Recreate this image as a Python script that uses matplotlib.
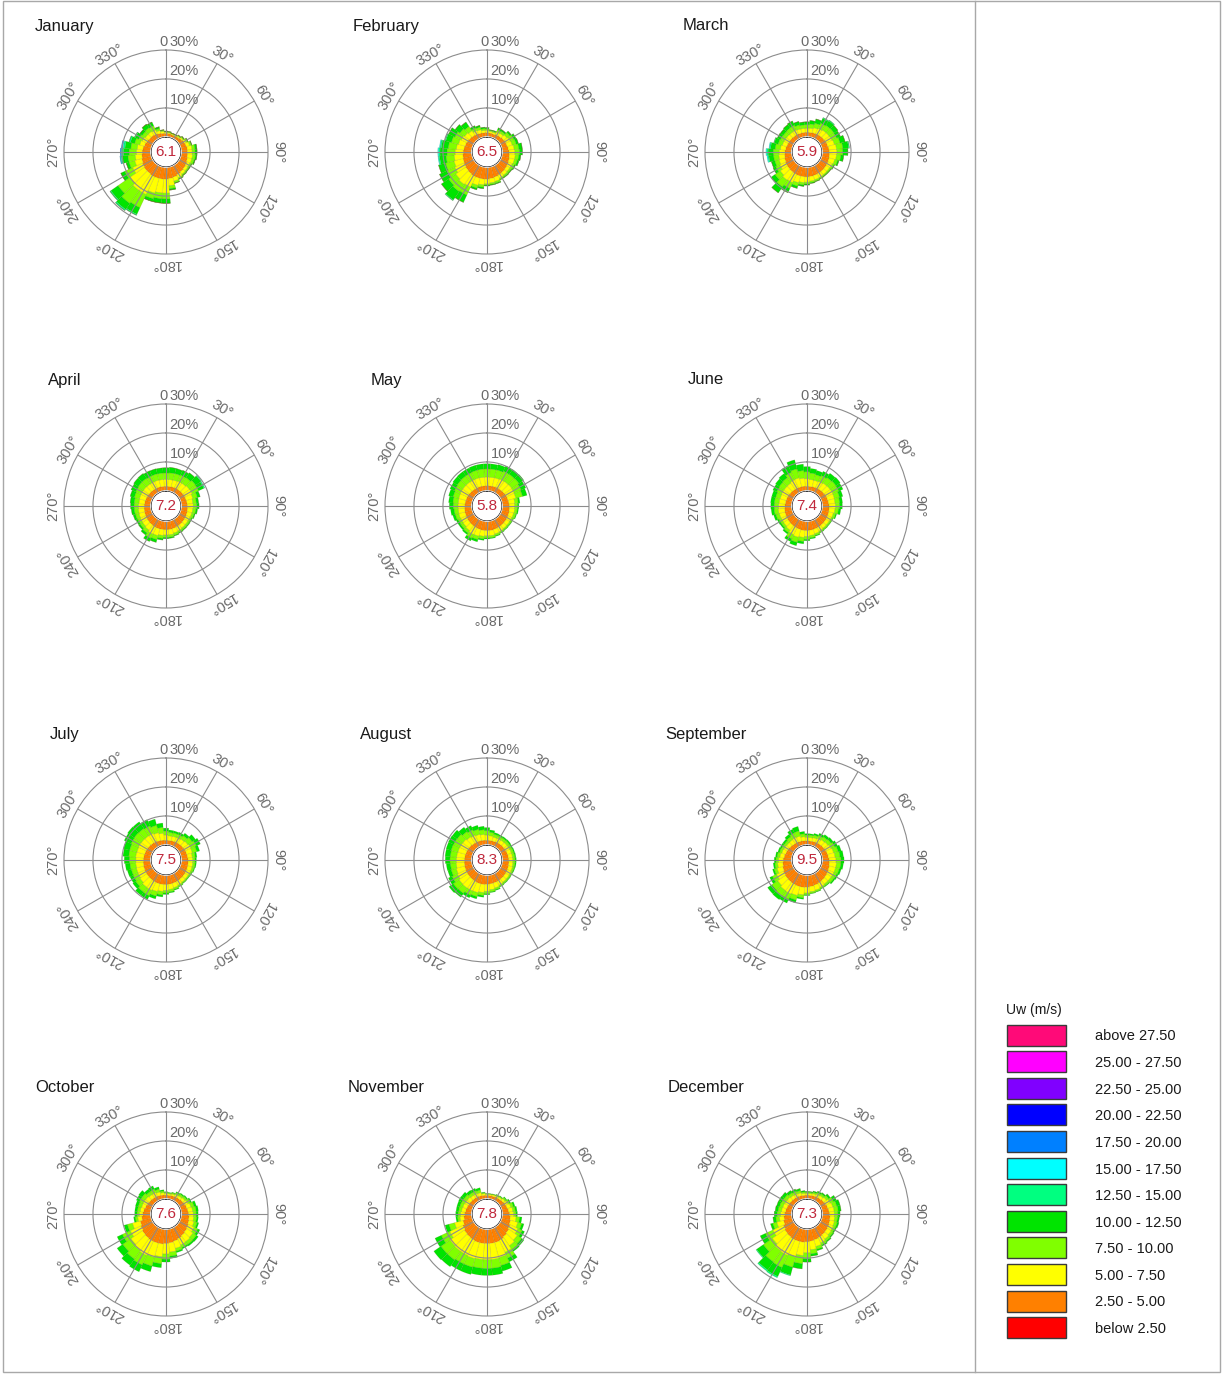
import numpy as np
import matplotlib.pyplot as plt
from matplotlib.patches import Rectangle, Circle

plt.rcParams['font.family'] = ['Liberation Sans', 'DejaVu Sans']

# figure size in pixels
W, H = 1222, 1375

# wind directions (sector centres, degrees from north, clockwise)
directions = np.arange(0, 360, 10)

months = ['January', 'February', 'March', 'April', 'May', 'June',
          'July', 'August', 'September', 'October', 'November', 'December']
mean_speed = ['6.1', '6.5', '5.9', '7.2', '5.8', '7.4',
              '7.5', '8.3', '9.5', '7.6', '7.8', '7.3']

# speed classes, lowest first
class_labels = ['below 2.50', '2.50 - 5.00', '5.00 - 7.50', '7.50 - 10.00',
                '10.00 - 12.50', '12.50 - 15.00', '15.00 - 17.50', '17.50 - 20.00',
                '20.00 - 22.50', '22.50 - 25.00', '25.00 - 27.50', 'above 27.50']
class_colors = ['#ff0000', '#ff8000', '#ffff00', '#80ff00', '#00e400', '#00ff80',
                '#00ffff', '#0080ff', '#0000ff', '#8000ff', '#ff00ff', '#ff0a78']

# frequency (%) per direction, one row per speed class starting at 2.50 - 5.00
jan = [
    [1.2,1.2,1.0,1.0,1.2,1.5,1.8,2.0,2.2,2.2,2.3,2.5,2.8,3.0,3.2,3.5,3.8,4.0,4.2,4.2,4.2,4.2,4.0,4.0,3.8,3.5,3.2,3.0,2.8,2.5,2.2,2.0,2.0,1.8,1.5,1.3],
    [0.4,0.3,0.3,0.3,0.4,0.5,0.7,1.2,1.6,1.6,1.7,1.5,1.0,1.0,1.0,1.1,1.4,2.5,4.8,4.8,5.3,6.8,7.0,6.0,3.7,2.5,2.3,2.0,2.0,1.7,1.6,1.5,1.5,1.4,1.0,0.7],
    [0.2,0.2,0.2,0.2,0.3,0.3,0.5,0.6,1.0,1.0,1.0,0.8,0.5,0.4,0.4,0.4,0.6,1.0,2.0,2.0,2.0,5.0,5.5,5.0,3.0,2.0,2.5,2.5,2.2,1.8,1.4,1.3,1.5,1.6,0.7,0.3],
    [0.2,0.2,0.1,0.1,0.1,0.2,0.2,0.2,0.7,0.7,0.5,0.4,0.3,0.2,0.2,0.2,0.2,0.5,1.5,1.5,1.0,2.5,2.5,3.0,1.5,1.0,2.0,2.0,2.0,1.5,1.3,1.0,1.5,1.4,0.6,0.2],
    [0,0,0,0,0,0,0,0,0,0,0,0,0,0,0,0,0,0,0,0,0,0.4,0.5,0.4,0,0,0.4,0.5,0.6,0.5,0.3,0,0,0,0,0],
    [0,0,0,0,0,0,0,0,0,0,0,0,0,0,0,0,0,0,0,0,0,0,0,0,0,0,0.2,0.3,0.4,0,0,0,0,0,0,0],
    [0,0,0,0,0,0,0,0,0,0,0,0,0,0,0,0,0,0,0,0,0,0,0,0,0,0,0.2,0.3,0.3,0,0,0,0,0,0,0],
]
feb = [
    [1.5,1.4,1.3,1.5,1.6,1.8,2.0,2.0,2.2,2.4,2.6,2.8,3.0,3.2,3.4,3.6,3.8,4.0,4.2,4.2,4.2,4.2,4.0,3.8,3.6,3.4,3.2,3.0,2.8,2.6,2.4,2.2,2.0,1.8,1.6,1.5],
    [0.8,0.6,0.6,1.0,1.1,1.4,1.6,1.8,2.0,2.0,2.0,1.8,1.4,1.2,1.2,1.2,1.5,1.5,1.6,2.0,2.5,4.0,4.5,4.2,3.5,3.2,3.0,2.8,2.6,2.4,2.2,2.0,1.8,1.2,1.2,0.8],
    [0.5,0.3,0.3,0.8,0.8,1.2,1.4,1.4,1.6,1.6,1.2,1.0,0.8,0.6,0.5,0.4,0.6,0.5,0.4,0.8,1.0,3.0,3.0,3.0,3.0,3.0,2.8,2.8,2.8,2.5,2.4,2.0,1.8,1.0,0.9,0.6],
    [0.4,0.2,0.3,0.7,0.5,0.6,0.8,0.8,1.2,1.0,0.7,0.6,0.4,0.3,0.3,0.2,0.3,0.3,0.3,0.5,0.6,2.8,3.5,3.0,2.8,2.5,2.2,2.4,2.4,2.0,2.4,2.0,1.8,0.8,0.6,0.5],
    [0,0,0,0,0,0,0,0,0,0,0,0,0,0,0,0,0,0,0,0,0,0,0.3,0,0,0,0.4,0.5,0.5,0.3,0,0,0,0,0,0],
    [0,0,0,0,0,0,0,0,0,0,0,0,0,0,0,0,0,0,0,0,0,0,0,0,0,0,0.2,0.3,0.2,0,0,0,0,0,0,0],
]
mar = [
    [1.6,1.6,1.7,1.8,1.9,2.0,2.1,2.2,2.4,2.5,2.6,2.7,2.8,2.9,3.0,3.1,3.2,3.3,3.4,3.4,3.4,3.3,3.2,3.1,3.0,2.8,2.6,2.4,2.2,2.0,1.9,1.8,1.7,1.7,1.6,1.6],
    [1.4,1.5,1.8,2.0,2.2,2.2,2.2,2.4,2.6,2.6,2.4,2.0,1.6,1.4,1.4,1.4,1.5,1.6,1.8,2.0,2.4,3.2,3.5,3.0,2.2,2.0,2.0,2.0,1.8,1.6,1.6,1.6,1.6,1.6,1.5,1.4],
    [1.2,1.4,1.6,2.0,2.0,2.0,1.8,2.0,2.2,2.0,1.5,1.0,0.6,0.5,0.4,0.4,0.5,0.5,0.6,0.8,1.2,2.2,2.8,2.2,1.5,1.5,1.8,2.0,1.8,1.5,1.4,1.4,1.6,1.7,1.4,1.2],
    [1.0,1.2,1.5,1.8,1.8,1.6,1.4,1.8,2.0,1.8,1.0,0.5,0.3,0.2,0.2,0.2,0.2,0.3,0.4,0.5,0.8,1.6,2.5,1.6,1.0,1.2,1.6,1.8,1.6,1.4,1.2,1.2,1.4,1.6,1.2,1.0],
    [0,0,0,0.3,0.3,0,0,0,0.3,0,0,0,0,0,0,0,0,0,0,0,0,0,0,0,0,0,0.4,0.5,0.4,0.2,0,0,0,0,0,0],
    [0,0,0,0,0,0,0,0,0,0,0,0,0,0,0,0,0,0,0,0,0,0,0,0,0,0,0.3,0.3,0.2,0,0,0,0,0,0,0],
]
apr = [
    [1.6,1.6,1.7,1.8,1.8,1.9,2.0,2.0,2.1,2.2,2.3,2.4,2.5,2.6,2.7,2.8,2.9,3.0,3.0,3.0,3.0,2.9,2.8,2.7,2.6,2.5,2.4,2.3,2.2,2.1,2.0,1.9,1.8,1.7,1.7,1.6],
    [2.4,2.4,2.4,2.5,2.6,2.8,2.8,2.4,2.0,2.0,1.8,1.6,1.4,1.4,1.4,1.5,1.6,1.8,1.8,2.0,2.4,2.6,2.2,2.0,2.0,2.0,2.0,2.0,2.0,2.2,2.3,2.4,2.4,2.4,2.4,2.4],
    [2.2,2.3,2.3,2.3,2.4,2.6,2.4,1.6,1.2,1.2,1.0,0.8,0.6,0.6,0.6,0.6,0.7,0.8,0.8,1.0,1.4,1.6,1.2,1.0,1.0,1.2,1.4,1.5,1.6,1.8,2.0,2.2,2.3,2.2,2.2,2.2],
    [1.8,1.9,1.8,1.8,2.0,2.2,2.0,1.0,0.8,0.8,0.6,0.4,0.3,0.3,0.3,0.3,0.3,0.4,0.5,0.6,1.0,1.2,0.8,0.6,0.6,0.8,1.0,1.2,1.4,1.5,1.8,1.9,2.0,1.9,1.8,1.8],
    [0,0,0,0,0,0.3,0.4,0,0,0,0,0,0,0,0,0,0,0,0,0,0,0,0,0,0,0,0,0,0,0,0,0,0,0,0,0],
]
may = [
    [1.8,1.8,1.9,2.0,2.0,2.1,2.2,2.3,2.4,2.5,2.6,2.7,2.8,2.9,3.0,3.1,3.2,3.3,3.3,3.3,3.2,3.1,3.0,2.9,2.8,2.7,2.6,2.5,2.4,2.3,2.2,2.1,2.0,1.9,1.9,1.8],
    [3.0,3.0,3.0,3.1,3.2,3.2,3.0,2.8,2.0,1.8,1.8,1.6,1.4,1.4,1.4,1.5,1.6,1.8,1.8,2.0,2.4,2.6,2.2,2.0,2.0,2.2,2.2,2.3,2.4,2.6,2.8,2.9,3.0,3.0,3.0,3.0],
    [2.8,2.8,2.8,3.0,3.0,3.0,2.6,2.4,1.2,1.0,0.9,0.8,0.6,0.5,0.5,0.5,0.6,0.7,0.7,0.9,1.2,1.4,1.0,1.0,1.0,1.2,1.4,1.6,1.8,2.0,2.2,2.4,2.5,2.6,2.7,2.8],
    [1.8,1.8,1.9,2.0,2.0,2.0,1.8,1.6,0.6,0.5,0.4,0.3,0.2,0.2,0.2,0.2,0.3,0.3,0.4,0.5,0.8,1.0,0.6,0.6,0.7,0.9,1.2,1.4,1.5,1.6,1.7,1.8,1.8,1.8,1.8,1.8],
]
jun = [
    [1.6,1.6,1.7,1.8,1.9,2.0,2.1,2.2,2.3,2.4,2.5,2.6,2.7,2.8,2.9,3.0,3.1,3.2,3.3,3.3,3.2,3.1,3.0,2.9,2.8,2.7,2.6,2.4,2.3,2.2,2.1,2.0,1.9,1.8,1.7,1.7],
    [2.6,2.4,2.3,2.4,2.6,2.6,2.6,2.4,2.2,2.2,2.0,1.6,1.4,1.3,1.3,1.4,1.6,1.8,2.0,2.4,2.8,2.6,2.0,1.8,1.8,2.0,2.2,2.2,2.2,2.2,2.4,2.5,2.6,3.0,3.2,2.8],
    [2.4,2.2,2.0,2.2,2.3,2.4,2.2,1.8,1.6,1.4,1.2,0.8,0.5,0.5,0.5,0.5,0.6,0.8,1.0,1.4,1.8,1.6,1.0,0.8,0.9,1.2,1.4,1.5,1.6,1.6,1.8,2.0,2.2,2.8,3.2,2.6],
    [1.8,1.6,1.5,1.6,1.8,1.8,1.6,1.2,1.0,1.0,0.8,0.4,0.2,0.2,0.2,0.2,0.3,0.4,0.5,0.8,1.2,1.0,0.6,0.5,0.6,0.8,1.0,1.2,1.3,1.4,1.5,1.6,1.8,2.6,3.2,2.2],
]
jul = [
    [1.6,1.6,1.7,1.8,1.9,2.0,2.1,2.2,2.3,2.4,2.5,2.6,2.7,2.8,2.9,3.0,3.1,3.2,3.3,3.3,3.3,3.2,3.1,3.0,2.9,2.8,2.7,2.6,2.5,2.4,2.3,2.2,2.1,2.0,1.8,1.7],
    [1.8,1.6,1.6,1.6,1.8,2.0,2.2,2.0,1.6,1.6,1.6,1.5,1.4,1.3,1.3,1.4,1.6,1.8,2.0,2.4,2.8,3.2,3.2,2.8,2.6,2.6,2.6,2.6,2.8,2.8,3.0,3.0,3.0,3.0,2.8,2.4],
    [1.4,1.2,1.2,1.2,1.4,1.8,2.0,1.6,1.0,0.8,0.8,0.7,0.5,0.4,0.4,0.5,0.6,0.8,0.9,1.2,1.6,2.0,2.0,1.8,1.8,1.8,2.0,2.2,2.4,2.6,2.8,3.0,3.0,2.8,2.6,2.0],
    [1.0,0.8,0.7,0.8,1.0,1.4,1.6,1.0,0.6,0.5,0.4,0.3,0.2,0.2,0.2,0.2,0.3,0.4,0.5,0.7,1.0,1.4,1.4,1.2,1.2,1.4,1.6,1.8,2.0,2.2,2.6,2.8,2.8,2.4,2.2,1.5],
]
aug = [
    [1.6,1.6,1.6,1.7,1.8,1.9,2.0,2.1,2.2,2.3,2.4,2.5,2.6,2.7,2.8,2.9,3.0,3.1,3.2,3.3,3.3,3.2,3.1,3.0,2.9,2.8,2.7,2.6,2.5,2.4,2.3,2.2,2.0,1.9,1.8,1.7],
    [1.8,1.6,1.4,1.4,1.4,1.4,1.4,1.4,1.4,1.4,1.4,1.4,1.4,1.4,1.4,1.5,1.8,2.0,2.4,2.8,3.2,3.4,3.6,3.6,3.2,3.0,2.8,2.8,2.8,2.8,2.8,2.8,2.6,2.4,2.2,2.0],
    [1.5,1.2,1.0,0.9,0.9,0.9,0.8,0.8,0.8,0.8,0.7,0.6,0.5,0.5,0.5,0.5,0.6,0.7,0.8,1.0,1.4,1.6,2.2,2.4,2.0,1.8,2.0,2.2,2.2,2.4,2.4,2.4,2.2,2.0,1.8,1.6],
    [1.1,0.8,0.6,0.5,0.5,0.5,0.4,0.4,0.4,0.4,0.4,0.3,0.2,0.2,0.2,0.2,0.3,0.3,0.4,0.6,0.8,1.0,1.6,1.8,1.4,1.2,1.4,1.6,1.8,1.8,2.0,2.0,1.8,1.6,1.4,1.2],
]
sep = [
    [1.4,1.4,1.5,1.6,1.7,1.8,2.0,2.1,2.2,2.4,2.6,2.8,3.0,3.2,3.4,3.6,3.8,4.0,4.2,4.3,4.3,4.2,4.1,4.0,3.8,3.5,3.2,3.0,2.7,2.4,2.2,2.0,1.8,1.7,1.6,1.5],
    [1.2,1.2,1.3,1.5,1.7,1.8,2.0,2.2,2.3,2.4,2.4,2.2,2.0,1.8,1.6,1.6,1.8,1.8,2.0,2.6,3.2,3.6,3.6,3.2,2.6,2.0,1.8,1.6,1.5,1.4,1.4,1.4,1.6,1.8,1.8,1.4],
    [0.8,0.8,0.9,1.1,1.2,1.3,1.4,1.6,1.7,1.7,1.5,1.3,1.1,1.0,0.6,0.5,0.5,0.5,0.6,1.0,1.6,2.0,2.2,2.4,1.6,1.0,0.9,0.9,0.9,0.8,0.8,0.9,1.2,1.6,1.8,1.0],
    [0.5,0.5,0.6,0.8,0.9,0.9,1.0,1.1,1.2,1.1,0.9,0.7,0.6,0.5,0.3,0.2,0.2,0.2,0.3,0.5,1.0,1.4,1.6,1.8,1.0,0.6,0.6,0.6,0.6,0.6,0.6,0.7,1.0,1.4,1.6,0.8],
]
oct_ = [
    [1.3,1.3,1.4,1.5,1.6,1.8,2.0,2.2,2.4,2.6,2.8,3.0,3.3,3.6,3.9,4.2,4.5,4.8,5.0,5.2,5.2,5.2,5.0,4.8,4.4,4.0,3.2,2.8,2.5,2.2,2.0,1.8,1.7,1.6,1.5,1.4],
    [0.6,0.5,0.6,0.8,0.9,1.0,1.2,1.5,1.6,1.6,1.6,1.8,2.2,2.6,2.6,2.4,2.6,3.2,3.6,4.4,5.0,5.4,5.2,4.8,4.0,2.8,1.4,1.2,1.2,1.3,1.5,1.6,1.4,1.4,1.2,0.8],
    [0.4,0.3,0.4,0.6,0.7,0.7,0.8,1.1,1.2,1.0,1.0,1.1,1.4,1.4,1.2,1.0,1.0,1.4,1.8,2.4,3.2,3.6,3.6,3.4,3.0,1.8,0.8,0.8,1.0,1.2,1.4,1.5,1.2,1.3,1.0,0.6],
    [0.2,0.2,0.2,0.4,0.4,0.4,0.5,0.8,0.8,0.7,0.6,0.6,0.8,0.8,0.6,0.5,0.5,0.8,1.0,1.4,2.0,2.6,2.6,2.4,2.0,1.2,0.6,0.8,0.9,1.0,1.2,1.4,1.0,1.2,0.8,0.4],
]
nov = [
    [1.2,1.2,1.2,1.3,1.4,1.6,1.8,2.0,2.3,2.6,2.9,3.2,3.6,4.0,4.4,4.8,5.0,5.0,5.0,5.0,5.0,4.8,4.6,4.4,4.0,3.4,2.8,2.5,2.2,2.0,1.8,1.7,1.6,1.5,1.4,1.3],
    [0.4,0.4,0.5,0.5,0.6,0.8,1.0,1.3,1.4,1.4,2.0,2.6,3.0,3.6,3.8,4.6,5.4,5.6,5.6,5.6,5.8,5.8,6.0,6.0,5.0,3.0,1.4,1.4,1.4,1.4,1.4,1.4,1.2,1.2,1.1,0.6],
    [0.2,0.2,0.2,0.3,0.3,0.5,0.6,0.9,0.9,0.8,1.2,1.4,1.6,1.8,1.6,2.2,2.8,3.0,3.0,3.0,3.0,3.2,3.6,3.8,3.2,2.0,0.8,0.9,1.0,1.1,1.2,1.2,1.0,1.0,0.9,0.3],
    [0.1,0.1,0.1,0.2,0.2,0.3,0.4,0.6,0.6,0.5,0.8,0.8,0.9,1.0,0.8,1.4,2.0,2.4,2.4,2.4,2.6,2.6,2.8,3.0,2.4,1.4,0.6,0.8,0.9,1.0,1.2,1.2,1.0,0.9,0.8,0.2],
]
dec = [
    [1.3,1.3,1.4,1.5,1.6,1.8,2.0,2.2,2.4,2.6,2.8,3.0,3.2,3.4,3.6,3.8,4.0,4.2,4.4,4.6,4.6,4.6,4.4,4.2,3.8,3.2,2.8,2.5,2.2,2.0,1.8,1.7,1.6,1.5,1.4,1.3],
    [0.6,0.6,0.7,0.9,1.0,1.2,1.6,1.8,1.8,1.6,1.6,1.6,1.6,1.6,1.8,2.0,2.4,3.0,3.8,4.6,5.4,6.0,6.0,5.2,4.0,2.4,1.6,1.4,1.4,1.4,1.4,1.4,1.2,1.1,1.0,0.7],
    [0.4,0.4,0.5,0.6,0.7,0.9,1.3,1.4,1.4,1.2,1.0,1.0,0.8,0.8,0.8,0.8,1.0,1.4,2.0,2.8,3.8,4.6,4.6,3.8,2.8,1.4,1.2,1.2,1.2,1.2,1.2,1.2,1.0,0.9,0.8,0.5],
    [0.3,0.3,0.4,0.5,0.5,0.7,1.1,1.2,1.0,0.8,0.6,0.6,0.4,0.4,0.4,0.4,0.5,0.8,1.2,1.8,2.8,3.4,3.4,2.8,2.0,0.8,1.0,1.0,1.0,1.0,1.1,1.1,0.9,0.8,0.7,0.4],
    [0,0,0,0,0,0,0,0,0,0,0,0,0,0,0,0,0,0,0,0,0.3,0.5,0.5,0.3,0,0,0,0,0,0,0,0,0,0,0,0],
]
month_freq = [jan, feb, mar, apr, may, jun, jul, aug, sep, oct_, nov, dec]

# rose layout (pixels)
col_x = [166, 487, 807]
row_y = [152, 506, 860, 1214]
R = 102          # outer ring radius
hole = 5.2       # empty centre, in % units
rmax = 30

grid_col = '#8c8c8c'
text_col = '#6a6a6a'

fig = plt.figure(figsize=(W / 100, H / 100), dpi=100)

# background frame
bg = fig.add_axes([0, 0, 1, 1])
bg.set_xlim(0, W)
bg.set_ylim(H, 0)
bg.axis('off')
bg.add_patch(Rectangle((3, 1), 1217, 1371, fill=False, ec='#a8a8a8', lw=1))
bg.plot([975, 975], [1, 1372], color='#a8a8a8', lw=1)

theta = np.deg2rad(directions)
for i, (name, freq, val) in enumerate(zip(months, month_freq, mean_speed)):
    cx = col_x[i % 3]
    cy = row_y[i // 3]
    ax = fig.add_axes([(cx - R) / W, 1 - (cy + R) / H, 2 * R / W, 2 * R / H],
                      projection='polar')
    ax.set_theta_zero_location('N')
    ax.set_theta_direction(-1)

    bottom = np.zeros(len(directions))
    for k, row in enumerate(freq):
        row = np.array(row, dtype=float)
        ax.bar(theta, row, width=np.deg2rad(10), bottom=bottom,
               color=class_colors[k + 1], edgecolor=(0.4, 0.35, 0.1, 0.22),
               linewidth=0.4, zorder=1)
        bottom += row

    ax.set_ylim(0, rmax)
    ax.set_rorigin(-hole)
    ax.set_yticks([10, 20])
    ax.set_yticklabels([])
    ax.set_xticks(np.deg2rad(np.arange(0, 360, 30)))
    ax.set_xticklabels([])
    ax.tick_params(length=0)
    ax.grid(True, color=grid_col, lw=0.8)
    ax.spines['polar'].set_color(grid_col)
    ax.spines['polar'].set_linewidth(0.8)
    ax.spines['inner'].set_visible(False)

    # clean white centre
    ax.add_artist(Circle((0.5, 0.5), 0.5 * hole / (hole + rmax) + 0.004,
                         transform=ax.transAxes, fc='white', ec='none', zorder=4))

    # compass labels around the rose
    for d in range(30, 360, 30):
        ax.text(np.deg2rad(d), 33.6, f'{d}°', rotation=-d, rotation_mode='anchor',
                ha='center', va='center', fontsize=10.5, color=text_col, clip_on=False)
    ax.annotate('0', xy=(0, rmax), xytext=(1.5, 1), textcoords='offset points',
                ha='right', va='bottom', fontsize=10.5, color=text_col)
    for r in (10, 20, 30):
        ax.annotate(f'{r}%', xy=(0, r), xytext=(2.5, 0.5), textcoords='offset points',
                    ha='left', va='bottom', fontsize=10.5, color=text_col)

    ax.text(0.5, 0.5, val, transform=ax.transAxes, ha='center', va='center',
            fontsize=11, color='#c0283c', zorder=5)
    fig.text((cx - 101) / W, 1 - (cy - 126) / H, name, ha='center', va='center',
             fontsize=12, color='#1a1a1a')

# legend for the speed classes
bg.text(1006, 1010, 'Uw (m/s)', ha='left', va='center', fontsize=10, color='#1a1a1a')
for j, (lab, col) in enumerate(zip(class_labels[::-1], class_colors[::-1])):
    yc = 1035 + j * 26.6
    bg.add_patch(Rectangle((1007, yc - 10.5), 59, 21, fc=col, ec='#3a3a3a', lw=1))
    bg.text(1095, yc + 1.5, lab, ha='left', va='center', fontsize=10.5, color='#1a1a1a')

fig.savefig('out.png', dpi=100)
